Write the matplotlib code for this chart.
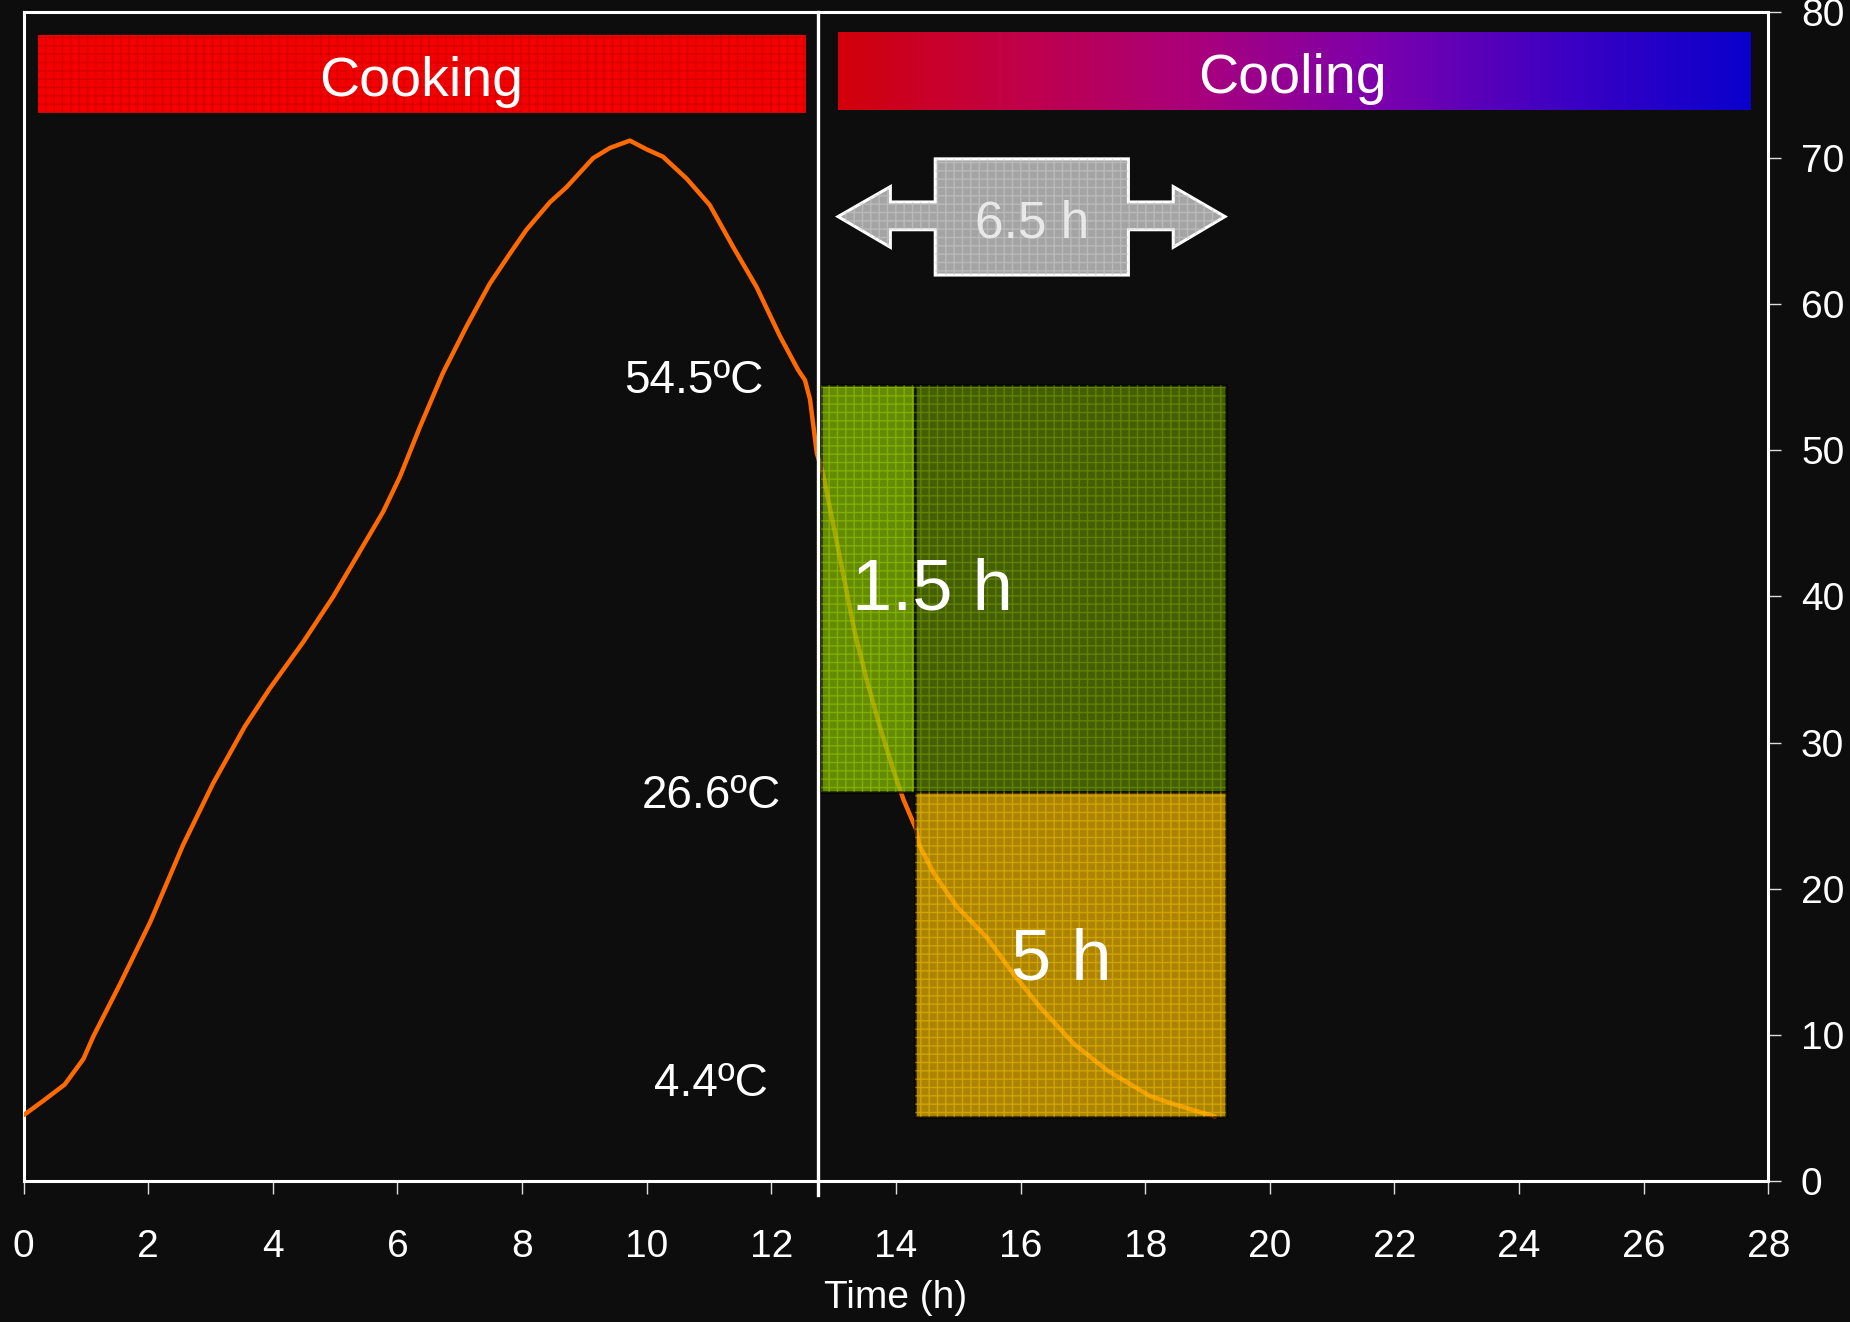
import matplotlib.pyplot as plt
import numpy as np
from matplotlib.patches import Rectangle, Polygon
from matplotlib.colors import LinearSegmentedColormap

plt.rcParams['font.family'] = ['Liberation Sans', 'DejaVu Sans']

BG = '#0d0d0d'

# core temperature of the product (time in h, temperature in ºC)
time_h = [0.0, 0.32, 0.66, 0.96, 1.12, 1.55, 2.03, 2.56, 3.04, 3.55, 3.95,
          4.49, 4.97, 5.77, 6.04, 6.36, 6.73, 7.11, 7.48,
          7.81, 8.07, 8.45, 8.71, 9.14, 9.41, 9.73, 10.00, 10.26, 10.64,
          11.01, 11.39, 11.76, 12.14, 12.43, 12.54, 12.62, 12.73,
          12.83, 12.99, 13.15, 13.34, 13.53, 13.74, 13.96, 14.12, 14.33,
          14.36, 14.60, 14.97, 15.45, 15.88, 16.31, 16.85, 17.38, 18.08,
          18.50, 19.12]
temp_c = [4.5, 5.5, 6.6, 8.35, 9.9, 13.5, 17.7, 23.0, 27.2, 31.1, 33.7,
          36.9, 40.0, 45.8, 48.2, 51.6, 55.3, 58.5, 61.4,
          63.5, 65.1, 67.0, 68.0, 70.0, 70.7, 71.2, 70.6, 70.1, 68.6,
          66.8, 63.9, 61.2, 57.8, 55.5, 54.8, 53.5, 49.8,
          48.4, 45.0, 41.6, 37.5, 34.3, 31.1, 28.1, 26.1, 24.0,
          23.1, 21.1, 18.8, 16.7, 14.2, 11.9, 9.4, 7.6, 5.8,
          5.2, 4.4]

cook_end = 12.75
cool_steps = [12.8, 14.3, 19.3]          # start, end of stage 1, end of stage 2
temp_marks = [54.5, 26.6, 4.4]
temp_labels = ['54.5ºC', '26.6ºC', '4.4ºC']
stage_labels = ['1.5 h', '5 h']
total_label = '6.5 h'
x_ticks = list(range(0, 30, 2))
y_ticks = list(range(0, 90, 10))

fig = plt.figure(figsize=(18.5, 13.22), dpi=100, facecolor=BG)
ax = fig.add_axes([0.01276, 0.1067, 0.9431, 0.8842], facecolor=BG)
ax.set_xlim(0, 28)
ax.set_ylim(0, 80)

# temperature curve
ax.plot(time_h, temp_c, color='#ff6a00', lw=3.2, zorder=3,
        solid_capstyle='round', solid_joinstyle='round')

# end of cooking
ax.axvline(cook_end, ymin=-0.012, ymax=1, color='white', lw=2.4, zorder=5, clip_on=False)


def textured_box(x0, x1, y0, y1, face, grid, alpha=1.0, z=4, edge='black'):
    ax.add_patch(Rectangle((x0, y0), x1 - x0, y1 - y0, facecolor=face,
                           edgecolor=edge, lw=1.8, alpha=alpha, zorder=z))
    ax.add_patch(Rectangle((x0, y0), x1 - x0, y1 - y0, facecolor='none',
                           edgecolor=grid, lw=0, hatch='++', alpha=alpha * 0.6,
                           zorder=z + 0.1))


# cooling stage boxes
t0, t1, t2 = cool_steps
t_hi, t_mid, t_lo = temp_marks
textured_box(t0, t1, t_mid, t_hi, '#86bd00', '#a8e000', alpha=0.72)
textured_box(t1, t2, t_mid, t_hi, '#5a8000', '#86b000', alpha=0.72)
textured_box(t1, t2, t_lo, t_mid, '#eab200', '#ffd000', alpha=0.72)

ax.text(13.29, 39.1, stage_labels[0], ha='left', va='baseline', fontsize=52,
        color='white', zorder=6)
ax.text((t1 + t2) / 2 - 0.15, 13.8, stage_labels[1], ha='center', va='baseline',
        fontsize=52, color='white', zorder=6)

# temperature thresholds
ax.text(11.87, t_hi - 0.6, temp_labels[0], ha='right', va='baseline', fontsize=33, color='white')
ax.text(12.15, t_mid - 1.1, temp_labels[1], ha='right', va='baseline', fontsize=33, color='white')
ax.text(11.95, t_lo + 1.4, temp_labels[2], ha='right', va='baseline', fontsize=33, color='white')

# total cooling time double arrow
a0, a1 = t0 + 0.27, t2 - 0.02
mid_y = 66.0
arrow = [
    (a0, mid_y), (a0 + 0.84, mid_y + 2.05), (a0 + 0.84, mid_y + 1.0),
    (14.63, mid_y + 1.0), (14.63, mid_y + 3.95), (17.73, mid_y + 3.95),
    (17.73, mid_y + 1.0), (a1 - 0.83, mid_y + 1.0), (a1 - 0.83, mid_y + 2.05),
    (a1, mid_y), (a1 - 0.83, mid_y - 2.1), (a1 - 0.83, mid_y - 0.9),
    (17.73, mid_y - 0.9), (17.73, mid_y - 4.0), (14.63, mid_y - 4.0),
    (14.63, mid_y - 0.9), (a0 + 0.84, mid_y - 0.9), (a0 + 0.84, mid_y - 2.1),
]
ax.add_patch(Polygon(arrow, closed=True, facecolor='#a4a4a4', edgecolor='white',
                     lw=2.2, zorder=4))
ax.add_patch(Polygon(arrow, closed=True, facecolor='none', edgecolor='#c8c8c8',
                     lw=0, hatch='++', alpha=0.6, zorder=4.1))
ax.text(16.18, 64.6, total_label, ha='center', va='baseline', fontsize=37,
        color='#e8e8e8', zorder=6)

# phase banners
ax.add_patch(Rectangle((0.23, 73.1), 12.33, 5.3, facecolor='#f40000',
                       edgecolor='none', zorder=2))
ax.add_patch(Rectangle((0.23, 73.1), 12.33, 5.3, facecolor='none',
                       edgecolor='#a00000', lw=0, hatch='++', alpha=0.35, zorder=2.1))
ax.text(6.38, 75.2, 'Cooking', ha='center', va='center', fontsize=40, color='white', zorder=3)

cool_cmap = LinearSegmentedColormap.from_list(
    'cool_band', ['#d2000a', '#c0004a', '#a8007e', '#7a00ae', '#3c00c4', '#0a00cc'])
ax.imshow(np.linspace(0, 1, 256)[None, :], cmap=cool_cmap, aspect='auto',
          extent=(13.07, 27.71, 73.3, 78.6), zorder=2)
ax.text(20.37, 75.4, 'Cooling', ha='center', va='center', fontsize=40, color='white', zorder=3)

# axes styling
for sp in ax.spines.values():
    sp.set_color('white')
    sp.set_linewidth(2.2)

ax.set_xticks(x_ticks)
ax.set_yticks(y_ticks)
ax.yaxis.tick_right()
ax.tick_params(axis='x', direction='out', length=9.5, width=1, color='#dddddd',
               labelsize=28, labelcolor='white', pad=25)
ax.tick_params(axis='y', direction='out', length=9.5, width=1, color='#dddddd',
               labelsize=28, labelcolor='white', pad=14)
ax.set_xlabel('Time (h)', fontsize=28, color='white', labelpad=11)

fig.savefig('out.png', dpi=100, facecolor=BG)
